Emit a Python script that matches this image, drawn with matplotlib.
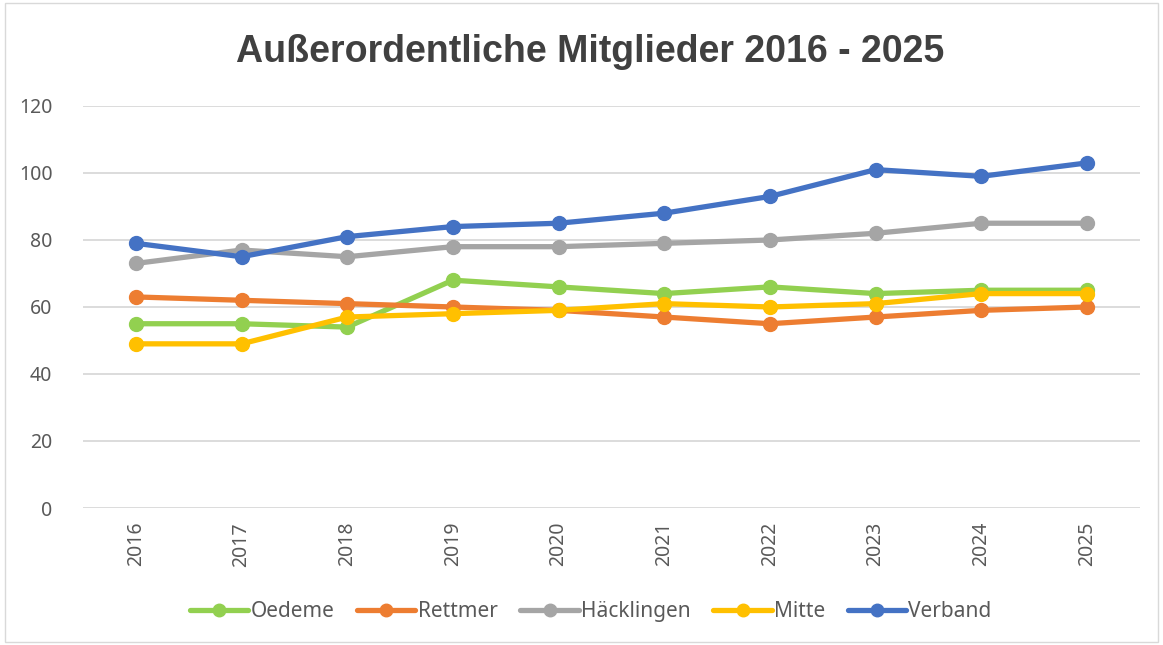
import matplotlib

matplotlib.use("Agg")

import matplotlib.pyplot as plt
from matplotlib.patches import Rectangle

years = ["2016", "2017", "2018", "2019", "2020", "2021", "2022", "2023", "2024", "2025"]
oedeme = [55, 55, 54, 68, 66, 64, 66, 64, 65, 65]
rettmer = [63, 62, 61, 60, 59, 57, 55, 57, 59, 60]
haecklingen = [73, 77, 75, 78, 78, 79, 80, 82, 85, 85]
mitte = [49, 49, 57, 58, 59, 61, 60, 61, 64, 64]
verband = [79, 75, 81, 84, 85, 88, 93, 101, 99, 103]

series = [
    ("Oedeme", oedeme, "#92D050"),
    ("Rettmer", rettmer, "#ED7D31"),
    ("Häcklingen", haecklingen, "#A5A5A5"),
    ("Mitte", mitte, "#FFC000"),
    ("Verband", verband, "#4472C4"),
]

plt.rcParams["font.family"] = ["Noto Sans", "DejaVu Sans"]

fig = plt.figure(figsize=(11.63, 6.45), dpi=100)
ax = fig.add_axes([0.0714, 0.2124, 0.9086, 0.6233])

x = list(range(len(years)))
for name, vals, color in series:
    ax.plot(x, vals, color=color, lw=3.8, marker="o", ms=10, label=name,
            solid_capstyle="round", solid_joinstyle="round")

ax.set_xlim(-0.5, len(years) - 0.5)
ax.set_ylim(0, 120)
ax.set_yticks(range(0, 121, 20))
ax.set_xticks(x)
ax.set_xticklabels(years, rotation=90)
ax.grid(axis="y", color="#D9D9D9", lw=1.3)
ax.set_axisbelow(True)
for s in ax.spines.values():
    s.set_visible(False)
ax.tick_params(length=0, labelsize=14, colors="#595959", pad=10)
ax.tick_params(axis="y", pad=22)

fig.suptitle("Außerordentliche Mitglieder 2016 - 2025", x=0.507, y=0.947,
             fontsize=27, fontweight="bold", color="#404040",
             family=["Liberation Sans", "DejaVu Sans"])

fig.legend(loc="center", bbox_to_anchor=(0.508, 0.052), ncol=5, frameon=False,
           fontsize=15, handlelength=2.8, handletextpad=0.1, columnspacing=1.1,
           labelcolor="#595959", markerscale=0.9)

fig.patches.append(Rectangle((0.004, 0.005), 0.992, 0.99, transform=fig.transFigure,
                             fill=False, edgecolor="#D9D9D9", lw=1))

fig.savefig("out.png", dpi=100)
